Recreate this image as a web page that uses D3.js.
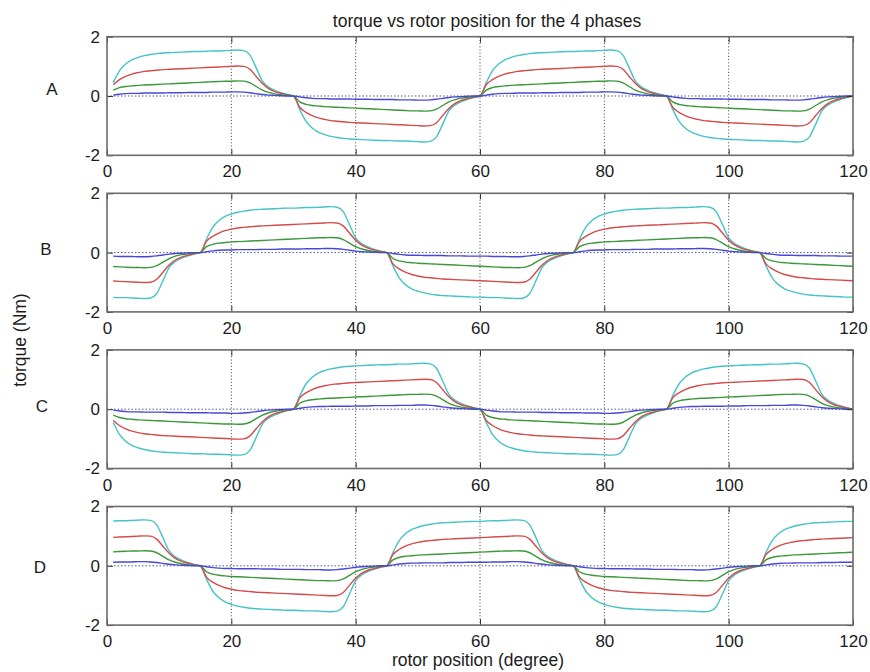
<!DOCTYPE html>
<html><head><meta charset="utf-8">
<script src="https://cdn.jsdelivr.net/npm/d3@7"></script>
<style>body{margin:0;background:#fff}svg{display:block}text{font-family:"Liberation Sans",Arial,sans-serif;fill:#1c1c1c}</style>
</head><body><svg id="c" width="870" height="672"></svg>
<script>
// rotor position (degree), samples 1..120
const rotorPos = d3.range(1, 121);
const xTicks = [0, 20, 40, 60, 80, 100, 120];
const yTicks = [-2, 0, 2];
const phaseNames = ["A", "B", "C", "D"];
const seriesColors = ["#45c3c6", "#d44b4b", "#3a983a", "#4848d4"];
const titleText = "torque vs rotor position for the 4 phases";
const xLabel = "rotor position (degree)";
const yLabel = "torque (Nm)";

// ---- phase A ----
const A_cyan = [
0.45,0.85,1.08,1.22,1.3,1.36,1.4,1.43,1.45,1.46,1.47,1.48,1.49,1.5,1.5,
1.51,1.52,1.52,1.53,1.54,1.55,1.53,1.38,0.95,0.5,0.3,0.19,0.11,0.05,0,
-0.45,-0.85,-1.08,-1.22,-1.3,-1.36,-1.4,-1.43,-1.45,-1.46,-1.47,-1.48,-1.49,-1.5,-1.5,
-1.51,-1.52,-1.52,-1.53,-1.54,-1.55,-1.53,-1.38,-0.95,-0.5,-0.3,-0.19,-0.11,-0.05,0,
0.45,0.85,1.08,1.22,1.3,1.36,1.4,1.43,1.45,1.46,1.47,1.48,1.49,1.5,1.5,
1.51,1.52,1.52,1.53,1.54,1.55,1.53,1.38,0.95,0.5,0.3,0.19,0.11,0.05,0,
-0.45,-0.85,-1.08,-1.22,-1.3,-1.36,-1.4,-1.43,-1.45,-1.46,-1.47,-1.48,-1.49,-1.5,-1.5,
-1.51,-1.52,-1.52,-1.53,-1.54,-1.55,-1.53,-1.38,-0.95,-0.5,-0.3,-0.19,-0.11,-0.05,0];
const A_red = [
0.38,0.55,0.66,0.74,0.79,0.83,0.85,0.87,0.89,0.9,0.91,0.92,0.93,0.94,0.95,
0.96,0.97,0.98,0.99,1.0,1.01,1.0,0.9,0.66,0.42,0.25,0.15,0.09,0.04,0,
-0.38,-0.55,-0.66,-0.74,-0.79,-0.83,-0.85,-0.87,-0.89,-0.9,-0.91,-0.92,-0.93,-0.94,-0.95,
-0.96,-0.97,-0.98,-0.99,-1.0,-1.01,-1.0,-0.9,-0.66,-0.42,-0.25,-0.15,-0.09,-0.04,0,
0.38,0.55,0.66,0.74,0.79,0.83,0.85,0.87,0.89,0.9,0.91,0.92,0.93,0.94,0.95,
0.96,0.97,0.98,0.99,1.0,1.01,1.0,0.9,0.66,0.42,0.25,0.15,0.09,0.04,0,
-0.38,-0.55,-0.66,-0.74,-0.79,-0.83,-0.85,-0.87,-0.89,-0.9,-0.91,-0.92,-0.93,-0.94,-0.95,
-0.96,-0.97,-0.98,-0.99,-1.0,-1.01,-1.0,-0.9,-0.66,-0.42,-0.25,-0.15,-0.09,-0.04,0];
const A_green = [
0.2,0.28,0.32,0.34,0.36,0.37,0.38,0.39,0.4,0.41,0.42,0.43,0.44,0.45,0.46,
0.47,0.48,0.49,0.5,0.5,0.51,0.5,0.44,0.32,0.2,0.12,0.07,0.04,0.02,0,
-0.2,-0.28,-0.32,-0.34,-0.36,-0.37,-0.38,-0.39,-0.4,-0.41,-0.42,-0.43,-0.44,-0.45,-0.46,
-0.47,-0.48,-0.49,-0.5,-0.5,-0.51,-0.5,-0.44,-0.32,-0.2,-0.12,-0.07,-0.04,-0.02,0,
0.2,0.28,0.32,0.34,0.36,0.37,0.38,0.39,0.4,0.41,0.42,0.43,0.44,0.45,0.46,
0.47,0.48,0.49,0.5,0.5,0.51,0.5,0.44,0.32,0.2,0.12,0.07,0.04,0.02,0,
-0.2,-0.28,-0.32,-0.34,-0.36,-0.37,-0.38,-0.39,-0.4,-0.41,-0.42,-0.43,-0.44,-0.45,-0.46,
-0.47,-0.48,-0.49,-0.5,-0.5,-0.51,-0.5,-0.44,-0.32,-0.2,-0.12,-0.07,-0.04,-0.02,0];
const A_blue = [
0.03,0.06,0.08,0.09,0.09,0.1,0.1,0.1,0.1,0.11,0.11,0.11,0.12,0.12,0.12,
0.12,0.13,0.13,0.13,0.14,0.14,0.13,0.11,0.08,0.05,0.03,0.02,0.01,0,0,
-0.03,-0.06,-0.08,-0.09,-0.09,-0.1,-0.1,-0.1,-0.1,-0.11,-0.11,-0.11,-0.12,-0.12,-0.12,
-0.12,-0.13,-0.13,-0.13,-0.14,-0.14,-0.13,-0.11,-0.08,-0.05,-0.03,-0.02,-0.01,0,0,
0.03,0.06,0.08,0.09,0.09,0.1,0.1,0.1,0.1,0.11,0.11,0.11,0.12,0.12,0.12,
0.12,0.13,0.13,0.13,0.14,0.14,0.13,0.11,0.08,0.05,0.03,0.02,0.01,0,0,
-0.03,-0.06,-0.08,-0.09,-0.09,-0.1,-0.1,-0.1,-0.1,-0.11,-0.11,-0.11,-0.12,-0.12,-0.12,
-0.12,-0.13,-0.13,-0.13,-0.14,-0.14,-0.13,-0.11,-0.08,-0.05,-0.03,-0.02,-0.01,0,0];

// ---- phase B ----
const B_cyan = [
-1.51,-1.52,-1.52,-1.53,-1.54,-1.55,-1.53,-1.38,-0.95,-0.5,-0.3,-0.19,-0.11,-0.05,0,
0.45,0.85,1.08,1.22,1.3,1.36,1.4,1.43,1.45,1.46,1.47,1.48,1.49,1.5,1.5,
1.51,1.52,1.52,1.53,1.54,1.55,1.53,1.38,0.95,0.5,0.3,0.19,0.11,0.05,0,
-0.45,-0.85,-1.08,-1.22,-1.3,-1.36,-1.4,-1.43,-1.45,-1.46,-1.47,-1.48,-1.49,-1.5,-1.5,
-1.51,-1.52,-1.52,-1.53,-1.54,-1.55,-1.53,-1.38,-0.95,-0.5,-0.3,-0.19,-0.11,-0.05,0,
0.45,0.85,1.08,1.22,1.3,1.36,1.4,1.43,1.45,1.46,1.47,1.48,1.49,1.5,1.5,
1.51,1.52,1.52,1.53,1.54,1.55,1.53,1.38,0.95,0.5,0.3,0.19,0.11,0.05,0,
-0.45,-0.85,-1.08,-1.22,-1.3,-1.36,-1.4,-1.43,-1.45,-1.46,-1.47,-1.48,-1.49,-1.5,-1.5];
const B_red = [
-0.96,-0.97,-0.98,-0.99,-1.0,-1.01,-1.0,-0.9,-0.66,-0.42,-0.25,-0.15,-0.09,-0.04,0,
0.38,0.55,0.66,0.74,0.79,0.83,0.85,0.87,0.89,0.9,0.91,0.92,0.93,0.94,0.95,
0.96,0.97,0.98,0.99,1.0,1.01,1.0,0.9,0.66,0.42,0.25,0.15,0.09,0.04,0,
-0.38,-0.55,-0.66,-0.74,-0.79,-0.83,-0.85,-0.87,-0.89,-0.9,-0.91,-0.92,-0.93,-0.94,-0.95,
-0.96,-0.97,-0.98,-0.99,-1.0,-1.01,-1.0,-0.9,-0.66,-0.42,-0.25,-0.15,-0.09,-0.04,0,
0.38,0.55,0.66,0.74,0.79,0.83,0.85,0.87,0.89,0.9,0.91,0.92,0.93,0.94,0.95,
0.96,0.97,0.98,0.99,1.0,1.01,1.0,0.9,0.66,0.42,0.25,0.15,0.09,0.04,0,
-0.38,-0.55,-0.66,-0.74,-0.79,-0.83,-0.85,-0.87,-0.89,-0.9,-0.91,-0.92,-0.93,-0.94,-0.95];
const B_green = [
-0.47,-0.48,-0.49,-0.5,-0.5,-0.51,-0.5,-0.44,-0.32,-0.2,-0.12,-0.07,-0.04,-0.02,0,
0.2,0.28,0.32,0.34,0.36,0.37,0.38,0.39,0.4,0.41,0.42,0.43,0.44,0.45,0.46,
0.47,0.48,0.49,0.5,0.5,0.51,0.5,0.44,0.32,0.2,0.12,0.07,0.04,0.02,0,
-0.2,-0.28,-0.32,-0.34,-0.36,-0.37,-0.38,-0.39,-0.4,-0.41,-0.42,-0.43,-0.44,-0.45,-0.46,
-0.47,-0.48,-0.49,-0.5,-0.5,-0.51,-0.5,-0.44,-0.32,-0.2,-0.12,-0.07,-0.04,-0.02,0,
0.2,0.28,0.32,0.34,0.36,0.37,0.38,0.39,0.4,0.41,0.42,0.43,0.44,0.45,0.46,
0.47,0.48,0.49,0.5,0.5,0.51,0.5,0.44,0.32,0.2,0.12,0.07,0.04,0.02,0,
-0.2,-0.28,-0.32,-0.34,-0.36,-0.37,-0.38,-0.39,-0.4,-0.41,-0.42,-0.43,-0.44,-0.45,-0.46];
const B_blue = [
-0.12,-0.13,-0.13,-0.13,-0.14,-0.14,-0.13,-0.11,-0.08,-0.05,-0.03,-0.02,-0.01,0,0,
0.03,0.06,0.08,0.09,0.09,0.1,0.1,0.1,0.1,0.11,0.11,0.11,0.12,0.12,0.12,
0.12,0.13,0.13,0.13,0.14,0.14,0.13,0.11,0.08,0.05,0.03,0.02,0.01,0,0,
-0.03,-0.06,-0.08,-0.09,-0.09,-0.1,-0.1,-0.1,-0.1,-0.11,-0.11,-0.11,-0.12,-0.12,-0.12,
-0.12,-0.13,-0.13,-0.13,-0.14,-0.14,-0.13,-0.11,-0.08,-0.05,-0.03,-0.02,-0.01,0,0,
0.03,0.06,0.08,0.09,0.09,0.1,0.1,0.1,0.1,0.11,0.11,0.11,0.12,0.12,0.12,
0.12,0.13,0.13,0.13,0.14,0.14,0.13,0.11,0.08,0.05,0.03,0.02,0.01,0,0,
-0.03,-0.06,-0.08,-0.09,-0.09,-0.1,-0.1,-0.1,-0.1,-0.11,-0.11,-0.11,-0.12,-0.12,-0.12];

// ---- phase C ----
const C_cyan = [
-0.45,-0.85,-1.08,-1.22,-1.3,-1.36,-1.4,-1.43,-1.45,-1.46,-1.47,-1.48,-1.49,-1.5,-1.5,
-1.51,-1.52,-1.52,-1.53,-1.54,-1.55,-1.53,-1.38,-0.95,-0.5,-0.3,-0.19,-0.11,-0.05,0,
0.45,0.85,1.08,1.22,1.3,1.36,1.4,1.43,1.45,1.46,1.47,1.48,1.49,1.5,1.5,
1.51,1.52,1.52,1.53,1.54,1.55,1.53,1.38,0.95,0.5,0.3,0.19,0.11,0.05,0,
-0.45,-0.85,-1.08,-1.22,-1.3,-1.36,-1.4,-1.43,-1.45,-1.46,-1.47,-1.48,-1.49,-1.5,-1.5,
-1.51,-1.52,-1.52,-1.53,-1.54,-1.55,-1.53,-1.38,-0.95,-0.5,-0.3,-0.19,-0.11,-0.05,0,
0.45,0.85,1.08,1.22,1.3,1.36,1.4,1.43,1.45,1.46,1.47,1.48,1.49,1.5,1.5,
1.51,1.52,1.52,1.53,1.54,1.55,1.53,1.38,0.95,0.5,0.3,0.19,0.11,0.05,0];
const C_red = [
-0.38,-0.55,-0.66,-0.74,-0.79,-0.83,-0.85,-0.87,-0.89,-0.9,-0.91,-0.92,-0.93,-0.94,-0.95,
-0.96,-0.97,-0.98,-0.99,-1.0,-1.01,-1.0,-0.9,-0.66,-0.42,-0.25,-0.15,-0.09,-0.04,0,
0.38,0.55,0.66,0.74,0.79,0.83,0.85,0.87,0.89,0.9,0.91,0.92,0.93,0.94,0.95,
0.96,0.97,0.98,0.99,1.0,1.01,1.0,0.9,0.66,0.42,0.25,0.15,0.09,0.04,0,
-0.38,-0.55,-0.66,-0.74,-0.79,-0.83,-0.85,-0.87,-0.89,-0.9,-0.91,-0.92,-0.93,-0.94,-0.95,
-0.96,-0.97,-0.98,-0.99,-1.0,-1.01,-1.0,-0.9,-0.66,-0.42,-0.25,-0.15,-0.09,-0.04,0,
0.38,0.55,0.66,0.74,0.79,0.83,0.85,0.87,0.89,0.9,0.91,0.92,0.93,0.94,0.95,
0.96,0.97,0.98,0.99,1.0,1.01,1.0,0.9,0.66,0.42,0.25,0.15,0.09,0.04,0];
const C_green = [
-0.2,-0.28,-0.32,-0.34,-0.36,-0.37,-0.38,-0.39,-0.4,-0.41,-0.42,-0.43,-0.44,-0.45,-0.46,
-0.47,-0.48,-0.49,-0.5,-0.5,-0.51,-0.5,-0.44,-0.32,-0.2,-0.12,-0.07,-0.04,-0.02,0,
0.2,0.28,0.32,0.34,0.36,0.37,0.38,0.39,0.4,0.41,0.42,0.43,0.44,0.45,0.46,
0.47,0.48,0.49,0.5,0.5,0.51,0.5,0.44,0.32,0.2,0.12,0.07,0.04,0.02,0,
-0.2,-0.28,-0.32,-0.34,-0.36,-0.37,-0.38,-0.39,-0.4,-0.41,-0.42,-0.43,-0.44,-0.45,-0.46,
-0.47,-0.48,-0.49,-0.5,-0.5,-0.51,-0.5,-0.44,-0.32,-0.2,-0.12,-0.07,-0.04,-0.02,0,
0.2,0.28,0.32,0.34,0.36,0.37,0.38,0.39,0.4,0.41,0.42,0.43,0.44,0.45,0.46,
0.47,0.48,0.49,0.5,0.5,0.51,0.5,0.44,0.32,0.2,0.12,0.07,0.04,0.02,0];
const C_blue = [
-0.03,-0.06,-0.08,-0.09,-0.09,-0.1,-0.1,-0.1,-0.1,-0.11,-0.11,-0.11,-0.12,-0.12,-0.12,
-0.12,-0.13,-0.13,-0.13,-0.14,-0.14,-0.13,-0.11,-0.08,-0.05,-0.03,-0.02,-0.01,0,0,
0.03,0.06,0.08,0.09,0.09,0.1,0.1,0.1,0.1,0.11,0.11,0.11,0.12,0.12,0.12,
0.12,0.13,0.13,0.13,0.14,0.14,0.13,0.11,0.08,0.05,0.03,0.02,0.01,0,0,
-0.03,-0.06,-0.08,-0.09,-0.09,-0.1,-0.1,-0.1,-0.1,-0.11,-0.11,-0.11,-0.12,-0.12,-0.12,
-0.12,-0.13,-0.13,-0.13,-0.14,-0.14,-0.13,-0.11,-0.08,-0.05,-0.03,-0.02,-0.01,0,0,
0.03,0.06,0.08,0.09,0.09,0.1,0.1,0.1,0.1,0.11,0.11,0.11,0.12,0.12,0.12,
0.12,0.13,0.13,0.13,0.14,0.14,0.13,0.11,0.08,0.05,0.03,0.02,0.01,0,0];

// ---- phase D ----
const D_cyan = [
1.51,1.52,1.52,1.53,1.54,1.55,1.53,1.38,0.95,0.5,0.3,0.19,0.11,0.05,0,
-0.45,-0.85,-1.08,-1.22,-1.3,-1.36,-1.4,-1.43,-1.45,-1.46,-1.47,-1.48,-1.49,-1.5,-1.5,
-1.51,-1.52,-1.52,-1.53,-1.54,-1.55,-1.53,-1.38,-0.95,-0.5,-0.3,-0.19,-0.11,-0.05,0,
0.45,0.85,1.08,1.22,1.3,1.36,1.4,1.43,1.45,1.46,1.47,1.48,1.49,1.5,1.5,
1.51,1.52,1.52,1.53,1.54,1.55,1.53,1.38,0.95,0.5,0.3,0.19,0.11,0.05,0,
-0.45,-0.85,-1.08,-1.22,-1.3,-1.36,-1.4,-1.43,-1.45,-1.46,-1.47,-1.48,-1.49,-1.5,-1.5,
-1.51,-1.52,-1.52,-1.53,-1.54,-1.55,-1.53,-1.38,-0.95,-0.5,-0.3,-0.19,-0.11,-0.05,0,
0.45,0.85,1.08,1.22,1.3,1.36,1.4,1.43,1.45,1.46,1.47,1.48,1.49,1.5,1.5];
const D_red = [
0.96,0.97,0.98,0.99,1.0,1.01,1.0,0.9,0.66,0.42,0.25,0.15,0.09,0.04,0,
-0.38,-0.55,-0.66,-0.74,-0.79,-0.83,-0.85,-0.87,-0.89,-0.9,-0.91,-0.92,-0.93,-0.94,-0.95,
-0.96,-0.97,-0.98,-0.99,-1.0,-1.01,-1.0,-0.9,-0.66,-0.42,-0.25,-0.15,-0.09,-0.04,0,
0.38,0.55,0.66,0.74,0.79,0.83,0.85,0.87,0.89,0.9,0.91,0.92,0.93,0.94,0.95,
0.96,0.97,0.98,0.99,1.0,1.01,1.0,0.9,0.66,0.42,0.25,0.15,0.09,0.04,0,
-0.38,-0.55,-0.66,-0.74,-0.79,-0.83,-0.85,-0.87,-0.89,-0.9,-0.91,-0.92,-0.93,-0.94,-0.95,
-0.96,-0.97,-0.98,-0.99,-1.0,-1.01,-1.0,-0.9,-0.66,-0.42,-0.25,-0.15,-0.09,-0.04,0,
0.38,0.55,0.66,0.74,0.79,0.83,0.85,0.87,0.89,0.9,0.91,0.92,0.93,0.94,0.95];
const D_green = [
0.47,0.48,0.49,0.5,0.5,0.51,0.5,0.44,0.32,0.2,0.12,0.07,0.04,0.02,0,
-0.2,-0.28,-0.32,-0.34,-0.36,-0.37,-0.38,-0.39,-0.4,-0.41,-0.42,-0.43,-0.44,-0.45,-0.46,
-0.47,-0.48,-0.49,-0.5,-0.5,-0.51,-0.5,-0.44,-0.32,-0.2,-0.12,-0.07,-0.04,-0.02,0,
0.2,0.28,0.32,0.34,0.36,0.37,0.38,0.39,0.4,0.41,0.42,0.43,0.44,0.45,0.46,
0.47,0.48,0.49,0.5,0.5,0.51,0.5,0.44,0.32,0.2,0.12,0.07,0.04,0.02,0,
-0.2,-0.28,-0.32,-0.34,-0.36,-0.37,-0.38,-0.39,-0.4,-0.41,-0.42,-0.43,-0.44,-0.45,-0.46,
-0.47,-0.48,-0.49,-0.5,-0.5,-0.51,-0.5,-0.44,-0.32,-0.2,-0.12,-0.07,-0.04,-0.02,0,
0.2,0.28,0.32,0.34,0.36,0.37,0.38,0.39,0.4,0.41,0.42,0.43,0.44,0.45,0.46];
const D_blue = [
0.12,0.13,0.13,0.13,0.14,0.14,0.13,0.11,0.08,0.05,0.03,0.02,0.01,0,0,
-0.03,-0.06,-0.08,-0.09,-0.09,-0.1,-0.1,-0.1,-0.1,-0.11,-0.11,-0.11,-0.12,-0.12,-0.12,
-0.12,-0.13,-0.13,-0.13,-0.14,-0.14,-0.13,-0.11,-0.08,-0.05,-0.03,-0.02,-0.01,0,0,
0.03,0.06,0.08,0.09,0.09,0.1,0.1,0.1,0.1,0.11,0.11,0.11,0.12,0.12,0.12,
0.12,0.13,0.13,0.13,0.14,0.14,0.13,0.11,0.08,0.05,0.03,0.02,0.01,0,0,
-0.03,-0.06,-0.08,-0.09,-0.09,-0.1,-0.1,-0.1,-0.1,-0.11,-0.11,-0.11,-0.12,-0.12,-0.12,
-0.12,-0.13,-0.13,-0.13,-0.14,-0.14,-0.13,-0.11,-0.08,-0.05,-0.03,-0.02,-0.01,0,0,
0.03,0.06,0.08,0.09,0.09,0.1,0.1,0.1,0.1,0.11,0.11,0.11,0.12,0.12,0.12];

const phaseSeries = [
  [A_cyan, A_red, A_green, A_blue],
  [B_cyan, B_red, B_green, B_blue],
  [C_cyan, C_red, C_green, C_blue],
  [D_cyan, D_red, D_green, D_blue]
];

// ---- layout ----
const plotLeft = 107, plotRight = 853;
const panelTop0 = 36.7, panelStep = 156.6, panelH = 118.6;
const letterPos = [[52, 89], [46, 249], [42, 406], [40, 567]];
const fontSize = 17;

const svg = d3.select("#c");
const x = d3.scaleLinear().domain([0, 120]).range([plotLeft, plotRight]);
const fmt = d => String(d);

phaseNames.forEach((name, i) => {
  const top = panelTop0 + i * panelStep;
  const y = d3.scaleLinear().domain([-2, 2]).range([top + panelH, top]);
  const g = svg.append("g");

  // vertical dotted grid
  g.selectAll("line.vg").data(xTicks.filter(d => d > 0 && d < 120)).join("line")
    .attr("class", "vg")
    .attr("x1", d => x(d)).attr("x2", d => x(d))
    .attr("y1", top).attr("y2", top + panelH)
    .attr("stroke", "#3a3a3a").attr("stroke-width", 1)
    .attr("stroke-dasharray", "1,2.2");
  // horizontal dotted grid at 0
  g.selectAll("line.hg").data(yTicks.filter(d => d === 0)).join("line")
    .attr("class", "hg")
    .attr("x1", plotLeft).attr("x2", plotRight)
    .attr("y1", d => y(d)).attr("y2", d => y(d))
    .attr("stroke", "#55559a").attr("stroke-width", 1)
    .attr("stroke-dasharray", "1.5,2");

  // curves
  const line = d3.line()
    .x((d, j) => x(rotorPos[j]))
    .y(d => y(d))
    .curve(d3.curveMonotoneX);
  g.selectAll("path.s").data(phaseSeries[i]).join("path")
    .attr("class", "s")
    .attr("d", d => line(d))
    .attr("fill", "none")
    .attr("stroke", (d, k) => seriesColors[k])
    .attr("stroke-width", 1.4)
    .attr("stroke-linejoin", "round");

  // axes
  const xb = g.append("g").attr("transform", `translate(0,${top + panelH})`)
    .call(d3.axisBottom(x).tickValues(xTicks).tickFormat(fmt).tickSizeInner(-6).tickSizeOuter(0).tickPadding(10));
  const xt = g.append("g").attr("transform", `translate(0,${top})`)
    .call(d3.axisTop(x).tickValues(xTicks).tickSizeInner(-6).tickSizeOuter(0).tickFormat(""));
  const yl = g.append("g").attr("transform", `translate(${plotLeft},0)`)
    .call(d3.axisLeft(y).tickValues(yTicks).tickFormat(fmt).tickSizeInner(-6).tickSizeOuter(0).tickPadding(7));
  const yr = g.append("g").attr("transform", `translate(${plotRight},0)`)
    .call(d3.axisRight(y).tickValues(yTicks).tickSizeInner(-6).tickSizeOuter(0).tickFormat(""));
  [xb, xt, yl, yr].forEach(a => {
    a.select(".domain").remove();
    a.selectAll(".tick line").attr("stroke", "#333").attr("stroke-width", 1);
    a.selectAll(".tick text").attr("font-size", fontSize).attr("fill", "#1c1c1c")
      .attr("font-family", "'Liberation Sans', Arial, sans-serif");
  });

  // box
  g.append("rect")
    .attr("x", plotLeft).attr("y", top)
    .attr("width", plotRight - plotLeft).attr("height", panelH)
    .attr("fill", "none").attr("stroke", "#6b6b6b").attr("stroke-width", 1.6);

  // phase letter
  svg.append("text")
    .attr("x", letterPos[i][0]).attr("y", letterPos[i][1])
    .attr("text-anchor", "middle").attr("dominant-baseline", "central")
    .attr("font-size", fontSize).text(name);
});

svg.append("text").attr("x", 487).attr("y", 27).attr("text-anchor", "middle")
  .attr("font-size", 17.5).text(titleText);
svg.append("text").attr("x", 478).attr("y", 666).attr("text-anchor", "middle")
  .attr("font-size", 17.5).text(xLabel);
svg.append("text").attr("transform", "translate(26,340) rotate(-90)")
  .attr("text-anchor", "middle").attr("font-size", 17.5).text(yLabel);
</script>
</body></html>
